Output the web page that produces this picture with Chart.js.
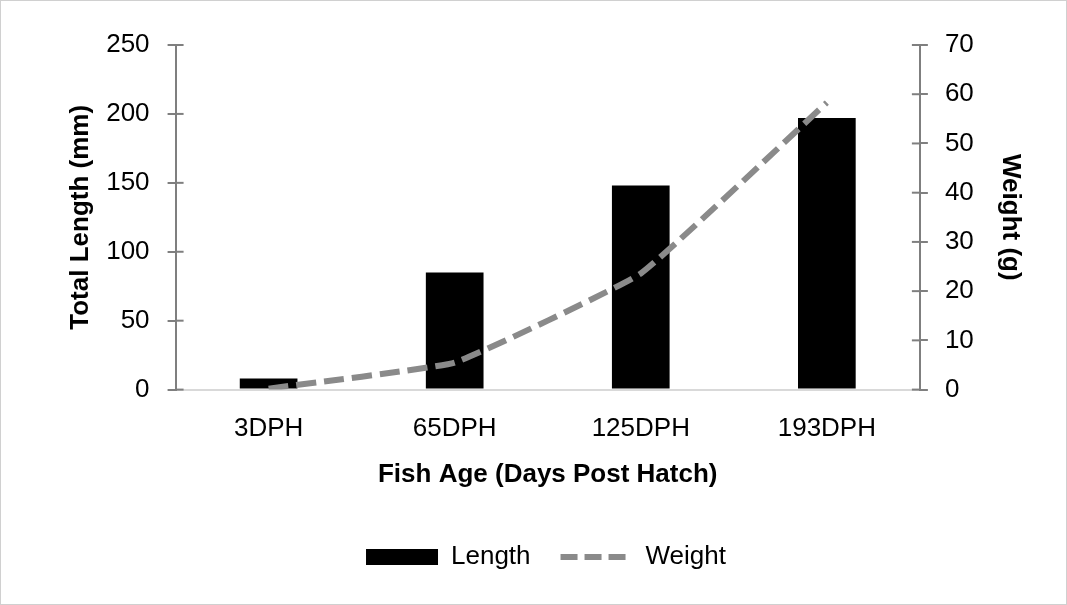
<!DOCTYPE html>
<html>
<head>
<meta charset="utf-8">
<script src="https://cdn.jsdelivr.net/npm/chart.js@4.4.1/dist/chart.umd.min.js"></script>
<style>
  html, body { margin: 0; padding: 0; background: #fff; }
  #wrap { width: 1065px; height: 603px; border: 1px solid #d0d0d0; }
</style>
</head>
<body>
<div id="wrap"><canvas id="fish-chart" width="1065" height="603"></canvas></div>
<script>
const ages = ['3DPH', '65DPH', '125DPH', '193DPH'];
const lengthMm = [8, 85, 148, 197];
const weightG = [0.2, 5.5, 23.6, 58.3];

// small tick marks on the inside of the y axes (excel style, crossing the axis)
const crossTicks = {
  id: 'crossTicks',
  afterDraw(chart) {
    const ctx = chart.ctx;
    ctx.save();
    ctx.strokeStyle = '#7f7f7f';
    ctx.lineWidth = 2;
    ['y', 'y1'].forEach(function(id){
      const sc = chart.scales[id];
      const x = id === 'y' ? sc.right : sc.left;
      const dir = id === 'y' ? 1 : -1;
      sc.ticks.forEach(function(t, i){
        const py = sc.getPixelForTick(i);
        ctx.beginPath();
        ctx.moveTo(x, py);
        ctx.lineTo(x + dir * 8, py);
        ctx.stroke();
      });
    });
    ctx.restore();
  }
};

document.addEventListener('DOMContentLoaded', function(){
  Chart.defaults.font.family = '"Liberation Sans", Arial, sans-serif';
  Chart.defaults.color = '#000';

  const ctx = document.getElementById('fish-chart').getContext('2d');
  new Chart(ctx, {
    type: 'bar',
    data: {
      labels: ages,
      datasets: [{
        label: 'Length',
        data: lengthMm,
        backgroundColor: '#000',
        borderWidth: 0,
        barPercentage: 0.31,
        categoryPercentage: 1,
        yAxisID: 'y',
        order: 2
      }, {
        type: 'line',
        label: 'Weight',
        data: weightG,
        borderColor: '#8a8a8a',
        backgroundColor: '#8a8a8a',
        borderWidth: 6,
        borderDash: [20, 8],
        pointRadius: 0,
        tension: 0.1,
        fill: false,
        yAxisID: 'y1',
        order: 1
      }]
    },
    options: {
      responsive: false,
      animation: false,
      layout: { padding: { left: 60, right: 35, top: 44, bottom: 24 } },
      plugins: {
        tooltip: { enabled: false },
        legend: {
          position: 'bottom',
          labels: {
            usePointStyle: true,
            pointStyleWidth: 72,
            boxHeight: 16,
            padding: 30,
            font: { size: 26 },
            generateLabels: function(chart){
              return chart.data.datasets.map(function(ds, i){
                return {
                  text: ds.label,
                  datasetIndex: i,
                  fillStyle: ds.backgroundColor,
                  strokeStyle: i === 0 ? '#000' : ds.borderColor,
                  lineWidth: i === 0 ? 0 : 6,
                  lineDash: i === 0 ? [] : [17, 7],
                  pointStyle: i === 0 ? 'rect' : 'line'
                };
              });
            }
          }
        }
      },
      scales: {
        x: {
          grid: { display: false },
          border: { display: true, color: '#d9d9d9', width: 2 },
          ticks: { font: { size: 26 }, padding: 16 },
          title: {
            display: true,
            text: 'Fish Age (Days Post Hatch)',
            font: { size: 26, weight: 'bold' },
            padding: { top: -2, bottom: 24 }
          }
        },
        y: {
          position: 'left',
          min: 0, max: 250,
          ticks: { stepSize: 50, font: { size: 26 }, padding: 18 },
          grid: { drawOnChartArea: false, color: '#7f7f7f', lineWidth: 2, tickLength: 8 },
          border: { display: true, color: '#7f7f7f', width: 2 },
          title: {
            display: true,
            text: 'Total Length (mm)',
            font: { size: 26, weight: 'bold' },
            padding: { bottom: -8 }
          }
        },
        y1: {
          position: 'right',
          min: 0, max: 70,
          ticks: { stepSize: 10, font: { size: 26 }, padding: 17 },
          grid: { drawOnChartArea: false, color: '#7f7f7f', lineWidth: 2, tickLength: 8 },
          border: { display: true, color: '#7f7f7f', width: 2 },
          title: {
            display: true,
            text: 'Weight (g)',
            font: { size: 26, weight: 'bold' },
            padding: { top: 5 }
          }
        }
      }
    },
    plugins: [crossTicks]
  });
});
</script>
</body>
</html>
